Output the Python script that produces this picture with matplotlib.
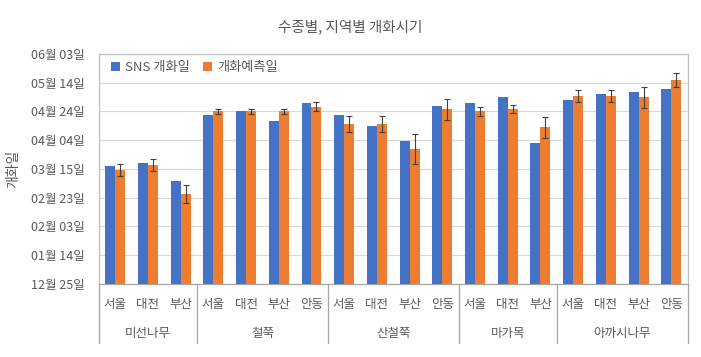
import datetime as dt
import matplotlib.pyplot as plt
from matplotlib.ticker import FuncFormatter, MultipleLocator

plt.rcParams['font.family'] = ['Noto Sans CJK KR', 'DejaVu Sans']

# species groups and regions inside each group
groups = ["미선나무", "철쭉", "산철쭉", "마가목", "아까시나무"]
regions = [
    ["서울", "대전", "부산"],
    ["서울", "대전", "부산", "안동"],
    ["서울", "대전", "부산", "안동"],
    ["서울", "대전", "부산"],
    ["서울", "대전", "부산", "안동"],
]

# values are days after 12월 25일
sns_days = [82, 84, 71.7,
            117.4, 120, 113.2, 125.8,
            117.4, 109.9, 99.2, 123.5,
            125.8, 129.8, 98,
            127.7, 131.9, 133.3, 135.4]
pred_days = [79.1, 82.9, 62.8,
             120, 120, 120, 123.2,
             111.1, 111.1, 93.8, 121.4,
             120, 121.4, 109,
             130.7, 130.7, 129.8, 141.7]
pred_err = [4.2, 4.3, 6.3,
            1.8, 1.8, 1.8, 3.2,
            5.4, 5.4, 10.3, 7.1,
            3, 2.8, 7.4,
            4.1, 4.1, 7.5, 5]

base = dt.date(2018, 12, 25)
grey = "#595959"

fig = plt.figure(figsize=(7.01, 3.57), dpi=100)
ax = fig.add_axes([0.141, 0.2045, 0.84, 0.6445])

x = list(range(len(sns_days)))
w = 0.305
ax.bar([i - w / 2 for i in x], sns_days, w, color="#4472C4", label="SNS 개화일", zorder=3)
ax.bar([i + w / 2 for i in x], pred_days, w, color="#ED7D31", label="개화예측일", zorder=3,
       yerr=pred_err, error_kw=dict(ecolor="#404040", elinewidth=0.8, capsize=2.5, capthick=0.8))

ax.set_xlim(-0.5, len(x) - 0.5)
ax.set_ylim(0, 160)
ax.yaxis.set_major_locator(MultipleLocator(20))
ax.yaxis.set_major_formatter(FuncFormatter(
    lambda v, p: (base + dt.timedelta(days=int(v))).strftime("%m월 %d일")))
ax.tick_params(axis="y", length=0, pad=10, labelsize=9, labelcolor=grey)
ax.set_xticks([])
ax.grid(axis="y", color="#D9D9D9", lw=0.8, zorder=0)
for s in ax.spines.values():
    s.set_color("#BFBFBF")
    s.set_linewidth(0.9)
ax.spines["bottom"].set_color("#A6A6A6")

# two-level category labels
tr = ax.get_xaxis_transform()
pos = 0
bounds = [-0.5]
for g, regs in zip(groups, regions):
    for j, r in enumerate(regs):
        ax.text(pos + j, -0.09, r, transform=tr, ha="center", va="center",
                fontsize=9, color=grey)
    ax.text(pos + (len(regs) - 1) / 2, -0.213, g, transform=tr, ha="center",
            va="center", fontsize=9, color=grey)
    pos += len(regs)
    bounds.append(pos - 0.5)
for b in bounds:
    ax.plot([b, b], [0, -0.255], transform=tr, color="#A6A6A6", lw=0.9, clip_on=False)

ax.set_ylabel("개화일", fontsize=10, color=grey, labelpad=8)
fig.text(0.5, 0.925, "수종별, 지역별 개화시기", ha="center", va="center",
         fontsize=10.5, color=grey)
ax.legend(loc="upper left", frameon=False, ncol=2, fontsize=9.5, handlelength=0.7,
          handleheight=0.7, handletextpad=0.4, columnspacing=1.0,
          bbox_to_anchor=(0.0, 1.02), labelcolor=grey)

fig.savefig("out.png", dpi=100)
